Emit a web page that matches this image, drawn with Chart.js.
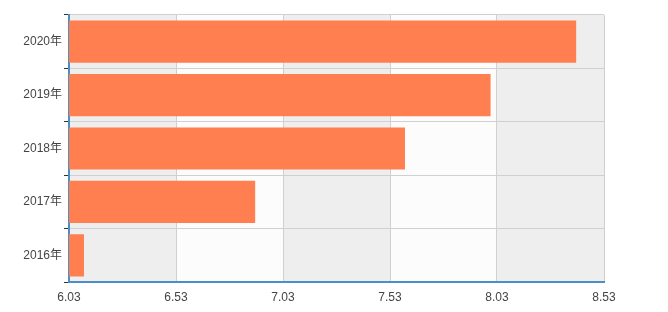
<!DOCTYPE html>
<html>
<head>
<meta charset="utf-8">
<script src="https://cdn.jsdelivr.net/npm/chart.js@4/dist/chart.umd.min.js"></script>
<style>
  html, body { margin: 0; padding: 0; background: #fff; }
  #wrap { width: 668px; height: 312px; }
</style>
</head>
<body>
<div id="wrap"><canvas id="chart" width="668" height="312"></canvas></div>
<script>
const years = ["2016年", "2017年", "2018年", "2019年", "2020年"];
const values = [6.10, 6.90, 7.60, 8.00, 8.40];
const xTicks = [6.03, 6.53, 7.03, 7.53, 8.03, 8.53];

const axisBlue = "#4a8fc8";
const gridGray = "#d0d0d0";
const fontFamily = "'Liberation Sans', Arial, 'Noto Sans CJK SC', sans-serif";

// alternating vertical bands between x ticks
const bands = {
  id: "bands",
  beforeDraw(chart) {
    const ctx = chart.ctx;
    const area = chart.chartArea;
    const x = chart.scales.x;
    ctx.save();
    for (let i = 0; i < xTicks.length - 1; i++) {
      const x0 = x.getPixelForValue(xTicks[i]);
      const x1 = x.getPixelForValue(xTicks[i + 1]);
      ctx.fillStyle = i % 2 === 0 ? "#eeeeee" : "#fcfcfc";
      ctx.fillRect(x0, area.top, x1 - x0, area.bottom - area.top);
    }
    ctx.restore();
  }
};

new Chart(document.getElementById("chart"), {
  type: "bar",
  data: {
    labels: years,
    datasets: [{
      data: values,
      backgroundColor: "#ff7f50",
      borderColor: "rgba(255,170,140,0.9)",
      borderWidth: 0,
      categoryPercentage: 1,
      barPercentage: 0.79
    }]
  },
  options: {
    indexAxis: "y",
    responsive: false,
    animation: false,
    layout: { padding: { top: 15, right: 64, left: 0, bottom: 0 } },
    plugins: {
      legend: { display: false },
      tooltip: { enabled: false }
    },
    scales: {
      x: {
        min: 6.03,
        max: 8.53,
        afterBuildTicks(scale) {
          scale.ticks = xTicks.map(v => ({ value: v }));
        },
        afterFit(scale) { scale.height = 30; },
        grid: { color: gridGray, drawTicks: false },
        border: { color: axisBlue, width: 2 },
        ticks: {
          padding: 8,
          color: "#444",
          font: { family: fontFamily, size: 12 },
          callback: v => Number(v).toFixed(2)
        }
      },
      y: {
        reverse: true,
        afterFit(scale) { scale.width = 69; },
        grid: { color: gridGray, offset: true, tickLength: 5, tickColor: "#333" },
        border: { color: axisBlue, width: 2 },
        ticks: {
          padding: 2,
          color: "#444",
          font: { family: fontFamily, size: 12 }
        }
      }
    }
  },
  plugins: [bands]
});
</script>
</body>
</html>
